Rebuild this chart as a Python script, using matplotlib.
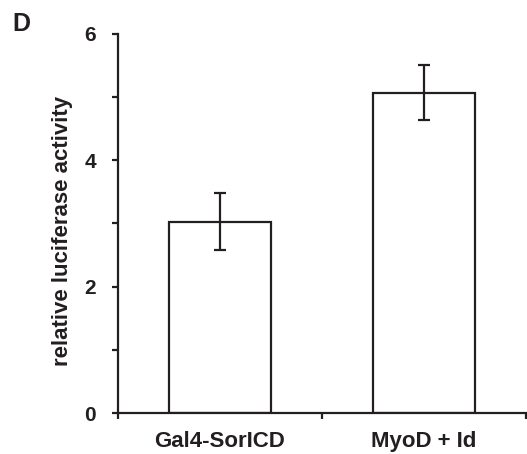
import matplotlib.pyplot as plt
from matplotlib.ticker import FixedLocator

# values
groups = ["Gal4-SorICD", "MyoD + Id"]
activity = [3.03, 5.07]
errors = [0.45, 0.44]

ink = "#231f20"
plt.rcParams["font.family"] = ["Liberation Sans", "DejaVu Sans"]
plt.rcParams["font.weight"] = "bold"

fig = plt.figure(figsize=(5.27, 4.54), dpi=100)
ax = fig.add_axes([0.2239, 0.0903, 0.774, 0.835])

x = list(range(len(groups)))
ax.bar(x, activity, width=0.5, color="white", edgecolor=ink, linewidth=1.6, zorder=2)
ax.errorbar(x, activity, yerr=errors, fmt="none", ecolor=ink,
            elinewidth=1.6, capsize=4, capthick=1.6, zorder=3)

ax.set_xlim(-0.5, 1.5)
ax.set_ylim(0, 6)
ax.spines["top"].set_visible(False)
ax.spines["right"].set_visible(False)
for s in ("left", "bottom"):
    ax.spines[s].set_linewidth(1.6)
    ax.spines[s].set_color(ink)

ax.set_xticks(x)
ax.set_xticklabels(groups, fontsize=16, fontweight="bold", color=ink)
ax.xaxis.set_minor_locator(FixedLocator([-0.5, 0.5, 1.5]))
ax.tick_params(axis="x", which="major", length=0, pad=13)
ax.tick_params(axis="x", which="minor", length=4, width=1.6, color=ink, direction="out")

ax.set_yticks([0, 2, 4, 6])
ax.set_yticklabels(["0", "2", "4", "6"], fontsize=15, fontweight="bold", color=ink)
ax.yaxis.set_minor_locator(FixedLocator([1, 3, 5]))
ax.tick_params(axis="y", which="both", length=4, width=1.6, color=ink,
               direction="out", pad=12)

ax.set_ylabel("relative luciferase activity", fontsize=16, fontweight="bold",
              color=ink)
ax.yaxis.set_label_coords(-0.11, 0.479)

fig.text(0.04, 0.947, "D", fontsize=18, fontweight="bold", color=ink,
         ha="center", va="center")

fig.savefig("out.png", dpi=100)
